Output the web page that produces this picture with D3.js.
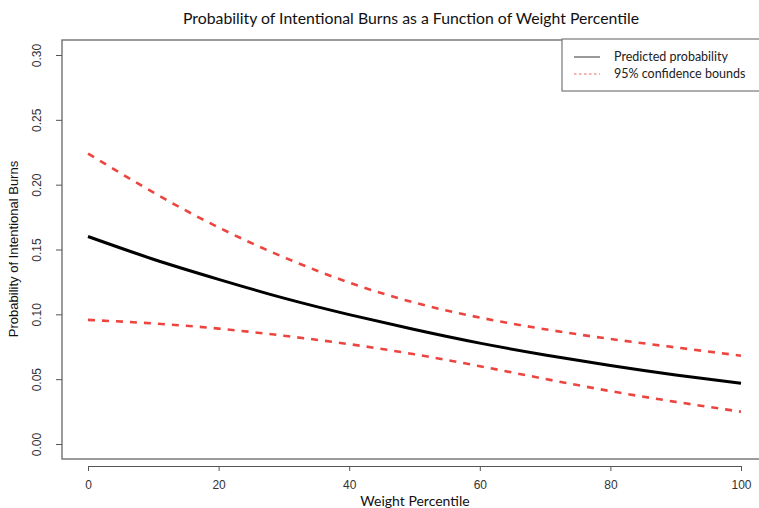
<!DOCTYPE html>
<html lang="en">
<head>
<meta charset="UTF-8">
<title>Probability of Intentional Burns</title>
<script src="https://d3js.org/d3.v7.min.js"></script>
<style>
    body { margin: 0; background: #fff; }
    svg { display: block; }
</style>
</head>
<body>
<div id="chart"></div>
<script>
// values, every 10 percentiles
const percentiles = [0, 10, 20, 30, 40, 50, 60, 70, 80, 90, 100];
const predicted = [0.160, 0.1425, 0.127, 0.1125, 0.0998, 0.0883, 0.0778, 0.0687, 0.0605, 0.0532, 0.0468];
const upperBound = [0.224, 0.194, 0.167, 0.144, 0.1245, 0.109, 0.0975, 0.0885, 0.081, 0.0745, 0.0681];
const lowerBound = [0.0957, 0.0930, 0.0890, 0.0835, 0.0770, 0.0692, 0.0600, 0.0502, 0.0408, 0.0325, 0.0249];
const xTicks = [0, 20, 40, 60, 80, 100];
const yTicks = [0, 0.05, 0.10, 0.15, 0.20, 0.25, 0.30];
const legendLabels = ["Predicted probability", "95% confidence bounds"];

const W = 759, H = 508;
const svg = d3.select("#chart").append("svg")
    .attr("width", W).attr("height", H);

const x = d3.scaleLinear().domain([0, 100]).range([88, 741]);
const y = d3.scaleLinear().domain([0, 0.30]).range([444, 55]);

const labelFont = "Lato, 'Open Sans', sans-serif";
const tickFont = "'Liberation Sans', Arial, sans-serif";

// title
svg.append("text")
    .attr("x", 411).attr("y", 24)
    .attr("text-anchor", "middle")
    .style("font-family", labelFont).style("font-size", "15.8px")
    .attr("fill", "#111")
    .text("Probability of Intentional Burns as a Function of Weight Percentile");

// plot frame (runs off the right edge)
svg.append("rect")
    .attr("x", 62).attr("y", 40)
    .attr("width", 760).attr("height", 419)
    .attr("fill", "none").attr("stroke", "#666").attr("stroke-width", 1.3);

// y axis
const yAxis = svg.append("g")
    .attr("transform", "translate(62,0)")
    .call(d3.axisLeft(y).tickValues(yTicks).tickFormat(d3.format(".2f")).tickSize(6));
yAxis.select(".domain").remove();
yAxis.selectAll("line").attr("stroke", "#555");
yAxis.selectAll("text")
    .attr("transform", "rotate(-90, -20, 0)")
    .attr("x", -20).attr("y", 0).attr("dy", "-0.05em")
    .attr("text-anchor", "middle")
    .style("font-family", tickFont).style("font-size", "12px")
    .attr("fill", "#333");

// x axis, drawn below the frame like base R
const xAxis = svg.append("g")
    .attr("transform", "translate(0,466)")
    .call(d3.axisBottom(x).tickValues(xTicks).tickSize(5).tickPadding(9).tickSizeOuter(0));
xAxis.select(".domain").attr("stroke", "#555").attr("stroke-width", 1.2);
xAxis.selectAll("line").attr("stroke", "#555");
xAxis.selectAll("text")
    .style("font-family", tickFont).style("font-size", "12px")
    .attr("fill", "#333");

// axis titles
svg.append("text")
    .attr("x", 415).attr("y", 506)
    .attr("text-anchor", "middle")
    .style("font-family", labelFont).style("font-size", "14px")
    .attr("fill", "#111")
    .text("Weight Percentile");

svg.append("text")
    .attr("transform", "translate(18,249) rotate(-90)")
    .attr("text-anchor", "middle")
    .style("font-family", tickFont).style("font-size", "13px")
    .attr("fill", "#111")
    .text("Probability of Intentional Burns");

// curves
const line = vals => d3.line()
    .x((d, i) => x(percentiles[i]))
    .y(d => y(d))
    .curve(d3.curveNatural)(vals);

svg.append("path").attr("d", line(upperBound))
    .attr("fill", "none").attr("stroke", "#ec4540").attr("stroke-width", 2.6)
    .attr("stroke-dasharray", "7,7");
svg.append("path").attr("d", line(lowerBound))
    .attr("fill", "none").attr("stroke", "#ec4540").attr("stroke-width", 2.6)
    .attr("stroke-dasharray", "7,7");
svg.append("path").attr("d", line(predicted))
    .attr("fill", "none").attr("stroke", "#000").attr("stroke-width", 3);

// legend
const legend = svg.append("g");
legend.append("rect")
    .attr("x", 562).attr("y", 39).attr("width", 260).attr("height", 52)
    .attr("fill", "#fff").attr("stroke", "#777").attr("stroke-width", 1.2);
legend.append("line")
    .attr("x1", 574).attr("x2", 600).attr("y1", 57).attr("y2", 57)
    .attr("stroke", "#999").attr("stroke-width", 2);
legend.append("line")
    .attr("x1", 574).attr("x2", 600).attr("y1", 74).attr("y2", 74)
    .attr("stroke", "#f06060").attr("stroke-width", 1).attr("stroke-dasharray", "2.5,2.5");
legend.selectAll("text.lab")
    .data(legendLabels)
    .enter().append("text")
    .attr("class", "lab")
    .attr("x", 614).attr("y", (d, i) => 61 + i * 17)
    .style("font-family", labelFont).style("font-size", "12.5px")
    .attr("fill", "#222")
    .text(d => d);
</script>
</body>
</html>
